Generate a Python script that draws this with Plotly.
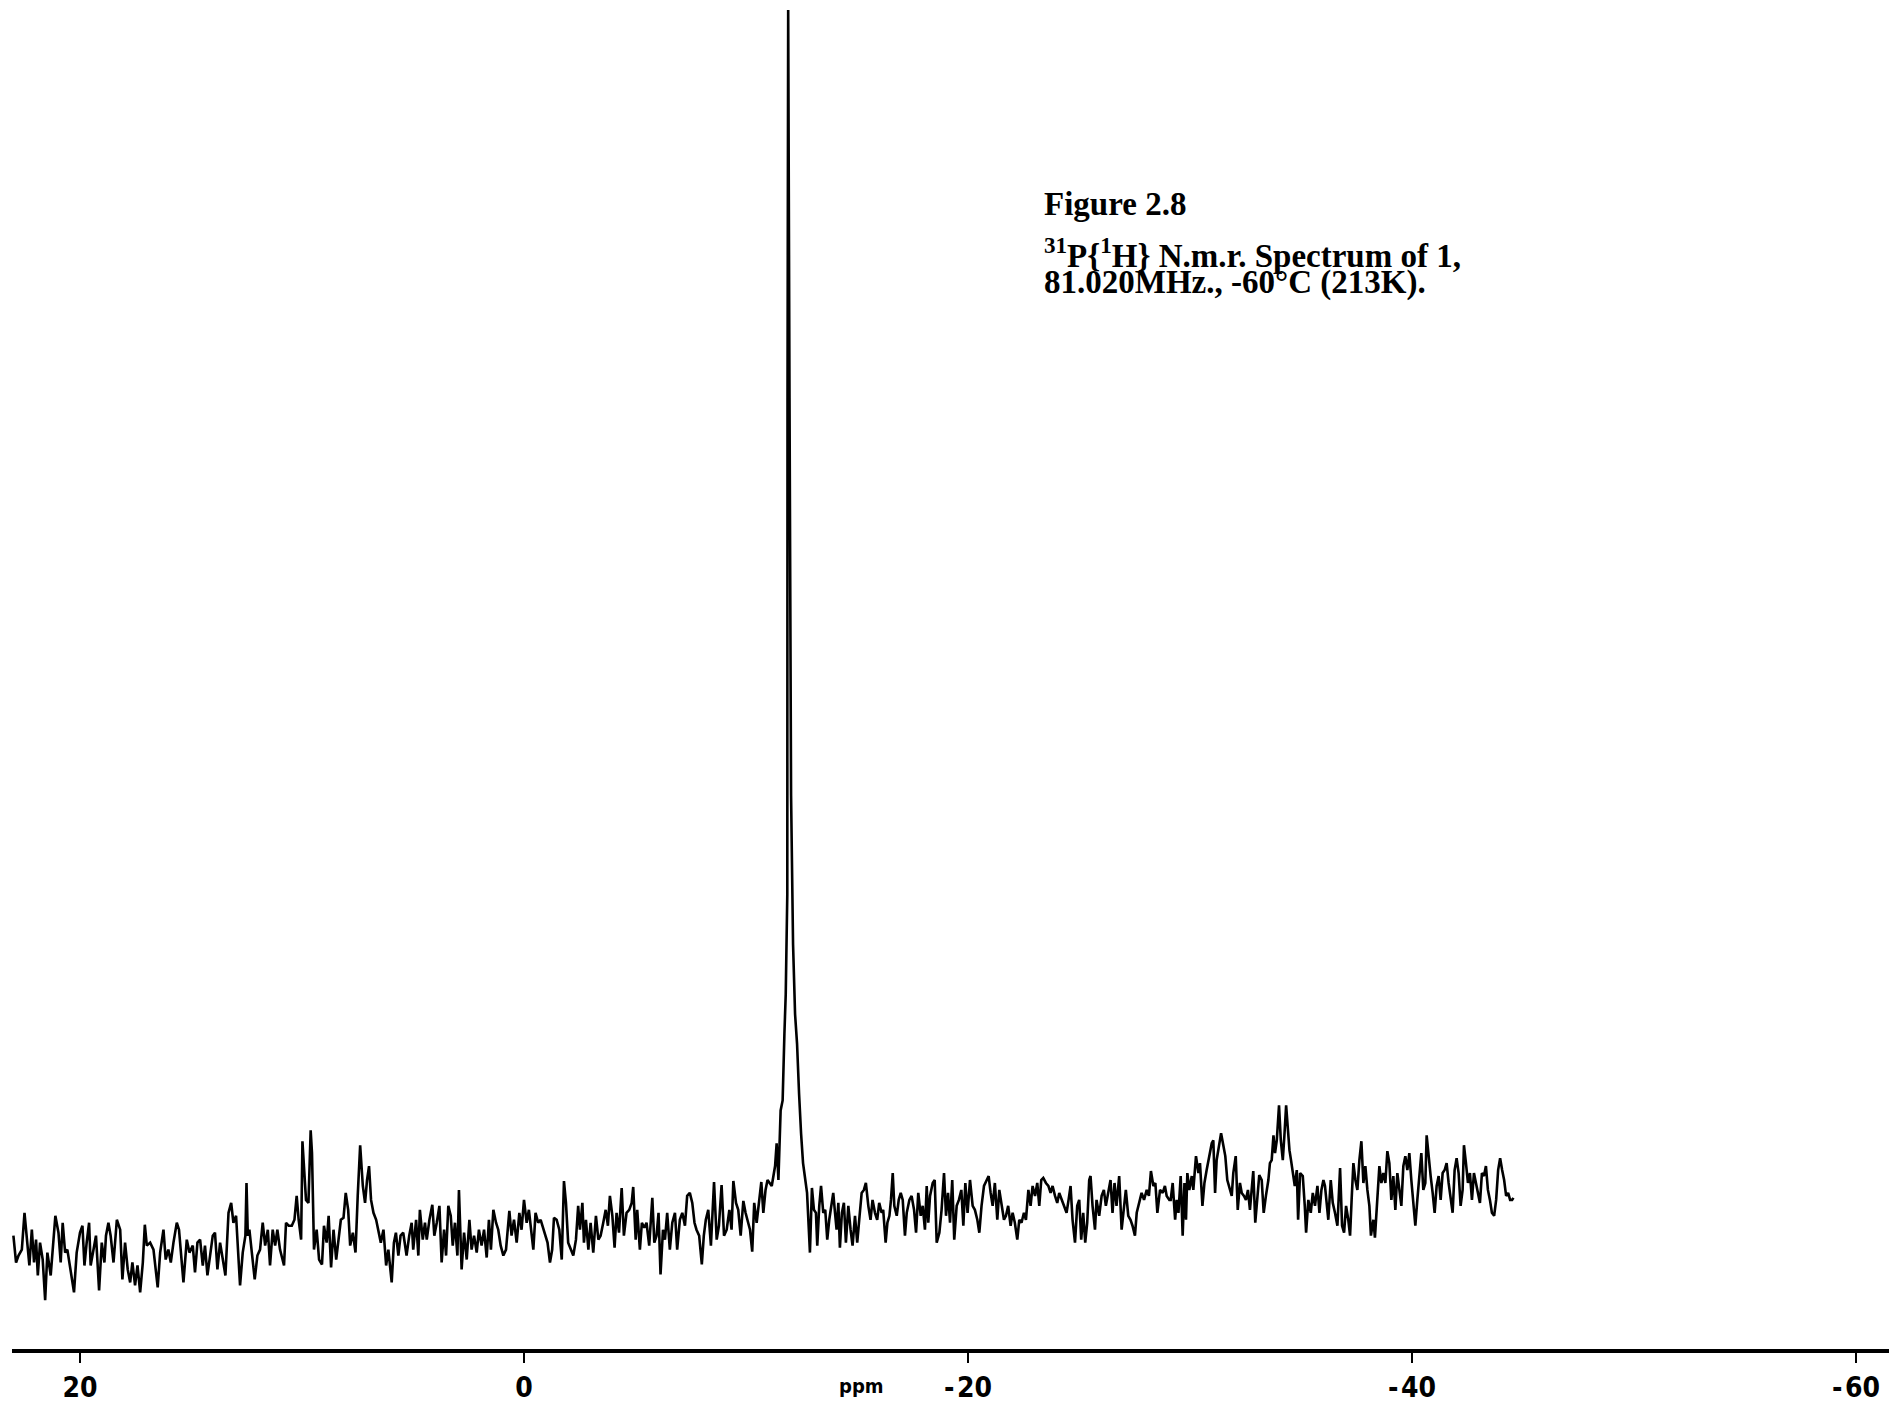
import plotly.graph_objects as go

# ---- Spectrum readings (chemical shift in ppm, intensity in arbitrary units) ----
# Segment A: +23 .. +6 ppm
ppm_a = [23.00, 22.88, 22.77, 22.62, 22.50, 22.40, 22.28, 22.17, 22.07, 21.98,
         21.90, 21.80, 21.68, 21.57, 21.47, 21.32, 21.20, 21.11, 20.97, 20.87,
         20.78, 20.67, 20.57, 20.45, 20.27, 20.15, 20.00, 19.89, 19.80, 19.70,
         19.59, 19.52, 19.40, 19.28, 19.14, 19.02, 18.90, 18.83, 18.72, 18.62,
         18.49, 18.34, 18.19, 18.09, 17.97, 17.85, 17.74, 17.64, 17.52, 17.41,
         17.29, 17.17, 17.08, 16.99, 16.84, 16.69, 16.50, 16.39, 16.24, 16.14,
         16.02, 15.91, 15.79, 15.64, 15.54, 15.42, 15.34, 15.19, 15.07, 14.92,
         14.82, 14.71, 14.59, 14.47, 14.37, 14.26, 14.14, 14.02, 13.92, 13.81,
         13.69, 13.57, 13.45, 13.31, 13.19, 13.09, 12.97, 12.85, 12.79, 12.67,
         12.55, 12.50, 12.44, 12.37, 12.23, 12.13, 12.01, 11.89, 11.77, 11.66,
         11.54, 11.44, 11.32, 11.21, 11.11, 10.99, 10.81, 10.72, 10.60, 10.46,
         10.34, 10.24, 10.15, 10.04, 9.98, 9.89, 9.82, 9.71, 9.61, 9.55,
         9.46, 9.34, 9.23, 9.10, 9.01, 8.89, 8.80, 8.69, 8.58, 8.46,
         8.36, 8.25, 8.13, 8.03, 7.92, 7.83, 7.71, 7.59, 7.49, 7.38,
         7.26, 7.16, 7.07, 6.98, 6.89, 6.78, 6.66, 6.56, 6.45, 6.33,
         6.21, 6.11]
int_a = [107, 80, 87, 93, 130, 107, 77, 113, 80, 103,
         67, 100, 83, 42, 90, 67, 107, 127, 110, 80,
         120, 90, 93, 77, 50, 90, 110, 117, 77, 100,
         120, 77, 93, 107, 52, 100, 80, 107, 120, 107,
         80, 123, 113, 63, 100, 73, 60, 80, 57, 77,
         50, 80, 118, 97, 100, 93, 55, 90, 113, 83,
         93, 80, 100, 120, 113, 83, 60, 103, 90, 97,
         70, 100, 103, 77, 97, 67, 90, 107, 110, 73,
         100, 83, 67, 130, 140, 120, 127, 80, 57, 90,
         107, 160, 107, 113, 83, 63, 87, 93, 120, 97,
         113, 77, 113, 97, 113, 93, 77, 120, 117, 117,
         123, 147, 123, 103, 202, 170, 143, 140, 213, 190,
         93, 113, 83, 78, 117, 100, 127, 75, 113, 83,
         100, 123, 125, 150, 133, 97, 110, 90, 147, 198,
         157, 140, 163, 177, 143, 130, 123, 110, 100, 113,
         77, 93]

# Segment B: +6 .. -11 ppm
ppm_b = [5.96, 5.86, 5.77, 5.66, 5.56, 5.44, 5.29, 5.17, 5.06, 4.99,
         4.86, 4.76, 4.69, 4.56, 4.46, 4.38, 4.26, 4.13, 4.04, 3.93,
         3.81, 3.71, 3.60, 3.51, 3.41, 3.30, 3.21, 3.11, 3.00, 2.93,
         2.81, 2.70, 2.58, 2.46, 2.36, 2.25, 2.13, 2.03, 1.91, 1.80,
         1.68, 1.58, 1.49, 1.38, 1.26, 1.16, 1.05, 0.93, 0.81, 0.66,
         0.56, 0.45, 0.33, 0.21, 0.11, 0.00, -0.12, -0.22, -0.33, -0.42,
         -0.52, -0.64, -0.75, -0.87, -0.97, -1.06, -1.17, -1.27, -1.35, -1.47,
         -1.59, -1.70, -1.80, -1.89, -1.99, -2.10, -2.22, -2.34, -2.44, -2.52,
         -2.63, -2.70, -2.79, -2.90, -3.00, -3.12, -3.24, -3.35, -3.45, -3.57,
         -3.68, -3.78, -3.87, -3.98, -4.08, -4.17, -4.28, -4.40, -4.50, -4.62,
         -4.74, -4.85, -4.92, -5.03, -5.10, -5.22, -5.31, -5.42, -5.52, -5.64,
         -5.78, -5.87, -5.97, -6.06, -6.15, -6.26, -6.35, -6.45, -6.57, -6.68,
         -6.80, -6.90, -7.02, -7.13, -7.25, -7.35, -7.47, -7.58, -7.68, -7.77,
         -7.89, -8.01, -8.10, -8.19, -8.30, -8.42, -8.56, -8.68, -8.78, -8.90,
         -9.01, -9.13, -9.25, -9.35, -9.43, -9.55, -9.65, -9.76, -9.88, -9.98,
         -10.07, -10.18, -10.28, -10.37, -10.48, -10.58, -10.69, -10.78, -10.88, -10.97,
         -11.05]
int_b = [60, 100, 110, 87, 107, 110, 87, 107, 120, 93,
         123, 87, 133, 103, 120, 103, 123, 138, 107, 120,
         137, 80, 113, 87, 137, 127, 97, 120, 87, 153,
         73, 110, 83, 123, 93, 107, 90, 113, 97, 113,
         85, 123, 93, 133, 120, 113, 97, 87, 93, 132,
         107, 123, 100, 130, 113, 143, 120, 133, 113, 93,
         130, 120, 123, 113, 107, 100, 80, 93, 125, 123,
         113, 83, 162, 140, 100, 93, 87, 103, 137, 113,
         140, 100, 123, 93, 120, 90, 127, 103, 107, 120,
         133, 117, 147, 127, 95, 130, 110, 155, 107, 130,
         133, 140, 156, 103, 133, 93, 120, 115, 120, 97,
         145, 100, 107, 130, 68, 113, 103, 130, 93, 120,
         130, 93, 123, 130, 117, 147, 150, 140, 120, 113,
         107, 78, 107, 123, 133, 97, 161, 103, 117, 158,
         107, 113, 133, 113, 162, 140, 133, 107, 142, 130,
         123, 113, 91, 140, 120, 143, 161, 130, 153, 163,
         160]

# Segment C: main resonance near -11.9 ppm
ppm_c = [-11.16, -11.31, -11.38, -11.46, -11.50, -11.56, -11.65, -11.68, -11.73, -11.79,
         -11.83, -11.86, -11.87, -11.90, -11.96, -12.03, -12.12, -12.21, -12.30, -12.34,
         -12.39, -12.48, -12.57, -12.66, -12.75, -12.88, -12.97]
int_c = [157, 177, 200, 163, 203, 233, 243, 283, 310, 350,
         417, 450, 950, 1340, 950, 550, 400, 330, 300, 270,
         250, 210, 180, 165, 150, 90, 155]

# Segment D: -13 .. -29 ppm
ppm_d = [-13.06, -13.15, -13.21, -13.30, -13.38, -13.48, -13.57, -13.66, -13.75, -13.86,
         -13.93, -14.01, -14.08, -14.16, -14.23, -14.32, -14.41, -14.50, -14.61, -14.71,
         -14.80, -14.91, -15.01, -15.10, -15.21, -15.31, -15.40, -15.51, -15.61, -15.70,
         -15.81, -15.91, -16.00, -16.11, -16.18, -16.29, -16.37, -16.46, -16.53, -16.61,
         -16.68, -16.79, -16.88, -16.97, -17.06, -17.16, -17.24, -17.36, -17.46, -17.57,
         -17.66, -17.76, -17.87, -17.96, -18.06, -18.14, -18.21, -18.29, -18.41, -18.50,
         -18.59, -18.71, -18.81, -18.92, -19.01, -19.10, -19.19, -19.29, -19.38, -19.49,
         -19.59, -19.70, -19.79, -19.88, -19.98, -20.09, -20.21, -20.31, -20.42, -20.51,
         -20.61, -20.72, -20.84, -20.93, -21.02, -21.11, -21.21, -21.32, -21.41, -21.51,
         -21.62, -21.71, -21.81, -21.92, -22.01, -22.11, -22.22, -22.31, -22.41, -22.52,
         -22.61, -22.72, -22.82, -22.91, -23.02, -23.12, -23.21, -23.30, -23.39, -23.51,
         -23.62, -23.72, -23.81, -23.92, -24.02, -24.11, -24.22, -24.32, -24.44, -24.53,
         -24.62, -24.71, -24.82, -24.92, -25.01, -25.10, -25.19, -25.28, -25.37, -25.46,
         -25.52, -25.61, -25.72, -25.79, -25.91, -26.02, -26.12, -26.21, -26.32, -26.42,
         -26.51, -26.60, -26.69, -26.81, -26.92, -27.02, -27.11, -27.22, -27.32, -27.41,
         -27.52, -27.60, -27.72, -27.82, -27.93, -28.05, -28.15, -28.24, -28.35, -28.44,
         -28.53, -28.65, -28.77, -28.87, -28.95, -29.07]
int_d = [133, 130, 97, 137, 157, 130, 133, 103, 123, 143,
         150, 130, 113, 140, 95, 130, 140, 100, 137, 113,
         97, 127, 100, 123, 150, 153, 160, 137, 123, 143,
         130, 123, 140, 130, 133, 100, 120, 127, 143, 170,
         137, 127, 143, 150, 143, 107, 130, 143, 147, 133,
         110, 150, 127, 137, 113, 157, 120, 147, 160, 163,
         100, 110, 133, 170, 127, 150, 120, 163, 103, 137,
         143, 153, 117, 160, 130, 163, 137, 133, 123, 110,
         137, 157, 163, 167, 150, 137, 160, 123, 153, 137,
         123, 127, 137, 117, 130, 120, 103, 123, 120, 130,
         123, 153, 137, 157, 147, 160, 137, 163, 165, 160,
         157, 150, 157, 147, 140, 150, 143, 137, 130, 143,
         157, 123, 100, 137, 143, 103, 130, 100, 120, 163,
         167, 137, 113, 143, 127, 147, 153, 137, 153, 163,
         130, 160, 137, 167, 113, 133, 153, 127, 123, 117,
         107, 130, 140, 150, 143, 153, 147, 172, 157, 160,
         130, 153, 150, 157, 147, 143]

# Segment E: -29 .. -44.6 ppm
ppm_e = [-29.13, -29.22, -29.33, -29.40, -29.48, -29.58, -29.67, -29.75, -29.82, -29.88,
         -29.97, -30.08, -30.15, -30.27, -30.38, -30.45, -30.56, -30.65, -30.75, -30.87,
         -30.98, -31.05, -31.13, -31.20, -31.31, -31.40, -31.50, -31.59, -31.68, -31.77,
         -31.88, -31.95, -32.06, -32.15, -32.25, -32.33, -32.43, -32.52, -32.61, -32.70,
         -32.79, -32.85, -32.94, -33.03, -33.12, -33.23, -33.32, -33.42, -33.53, -33.60,
         -33.68, -33.76, -33.83, -33.91, -34.01, -34.09, -34.18, -34.25, -34.33, -34.40,
         -34.48, -34.55, -34.63, -34.72, -34.81, -34.87, -34.96, -35.08, -35.17, -35.23,
         -35.33, -35.44, -35.53, -35.63, -35.74, -35.83, -35.92, -36.01, -36.08, -36.16,
         -36.23, -36.34, -36.43, -36.53, -36.64, -36.76, -36.85, -36.94, -37.03, -37.13,
         -37.21, -37.28, -37.36, -37.45, -37.54, -37.63, -37.72, -37.81, -37.90, -37.99,
         -38.08, -38.15, -38.26, -38.33, -38.44, -38.53, -38.62, -38.71, -38.80, -38.89,
         -38.98, -39.07, -39.16, -39.25, -39.34, -39.43, -39.52, -39.61, -39.70, -39.79,
         -39.88, -39.97, -40.06, -40.15, -40.24, -40.33, -40.42, -40.51, -40.60, -40.66,
         -40.75, -40.84, -40.93, -41.02, -41.11, -41.20, -41.29, -41.38, -41.47, -41.56,
         -41.65, -41.74, -41.83, -41.92, -42.01, -42.10, -42.19, -42.28, -42.34, -42.43,
         -42.52, -42.61, -42.70, -42.79, -42.88, -42.97, -43.06, -43.15, -43.24, -43.33,
         -43.42, -43.51, -43.60, -43.70, -43.79, -43.88, -43.97, -44.06, -44.15, -44.24,
         -44.33, -44.42, -44.51, -44.57]
int_e = [143, 160, 123, 143, 130, 167, 107, 160, 123, 170,
         153, 167, 153, 187, 170, 180, 137, 160, 173, 187,
         200, 203, 150, 183, 198, 210, 198, 187, 163, 155,
         147, 170, 187, 133, 160, 150, 147, 143, 153, 133,
         160, 172, 120, 143, 168, 163, 130, 147, 163, 180,
         183, 208, 190, 203, 238, 203, 183, 207, 238, 217,
         193, 183, 170, 157, 173, 123, 170, 167, 137, 110,
         143, 130, 150, 137, 157, 130, 153, 163, 157, 137,
         123, 163, 140, 130, 117, 175, 117, 110, 137, 123,
         107, 143, 180, 163, 153, 183, 202, 160, 177, 153,
         137, 107, 123, 105, 143, 177, 160, 170, 160, 192,
         180, 143, 167, 133, 170, 153, 137, 177, 187, 173,
         190, 163, 140, 117, 143, 163, 190, 153, 160, 208,
         183, 167, 150, 130, 157, 167, 143, 170, 173, 180,
         160, 143, 130, 173, 185, 170, 137, 153, 198, 180,
         160, 170, 143, 170, 160, 153, 140, 170, 167, 177,
         153, 143, 130, 127, 143, 173, 185, 173, 163, 147,
         150, 143, 143, 145]

# Axis ticks and texts
tick_vals = [20, 0, -20, -40, -60]
tick_text = ["20", "0", "-\u200a20", "-\u200a40", "-\u200a60"]
axis_unit = "ppm"
title_line1 = "Figure 2.8"
title_line2 = "<sup>31</sup>P{<sup>1</sup>H} N.m.r. Spectrum of 1,"
title_line3 = "81.020MHz., -60\u00b0C (213K)."

segments = [(ppm_a, int_a), (ppm_b, int_b), (ppm_c, int_c), (ppm_d, int_d), (ppm_e, int_e)]
ppm = []
inten = []
for px, iy in segments:
    n = min(len(px), len(iy))
    ppm.extend(px[:n])
    inten.extend(iy[:n])

fig = go.Figure()
fig.add_trace(go.Scatter(x=ppm, y=inten, mode="lines",
                         line=dict(color="black", width=2.6), hoverinfo="skip",
                         showlegend=False))

W, H = 1889, 1404
L, R, T, B = 12, 0, 0, 47
px_per_ppm = 22.2
zero_px = 524
x_left = (zero_px - L) / px_per_ppm
x_right = (zero_px - W) / px_per_ppm
plot_h = H - T - B

serif = "Liberation Serif, Times New Roman, serif"
narrow = "Liberation Sans Narrow, Arial Narrow, DejaVu Sans Condensed, sans-serif"

fig.update_layout(
    width=W, height=H,
    margin=dict(l=L, r=R, t=T, b=B, pad=0),
    paper_bgcolor="white", plot_bgcolor="white",
    xaxis=dict(range=[x_left, x_right], showgrid=False, zeroline=False,
               showline=True, linecolor="black", linewidth=4,
               ticks="outside", ticklen=10, tickwidth=2, tickcolor="black",
               tickvals=tick_vals, ticktext=tick_text,
               tickfont=dict(family=narrow, size=28, color="black", weight="bold")),
    yaxis=dict(range=[-7, 1350], visible=False, showgrid=False, zeroline=False),
    annotations=[
        dict(text=title_line1, xref="paper", yref="paper", x=0.5487, y=1 - 205 / plot_h,
             xanchor="left", yanchor="middle", showarrow=False,
             font=dict(family=serif, size=33, color="black", weight="bold")),
        dict(text=title_line2, xref="paper", yref="paper", x=0.5487, y=1 - 254 / plot_h,
             xanchor="left", yanchor="middle", showarrow=False,
             font=dict(family=serif, size=33, color="black", weight="bold")),
        dict(text=title_line3, xref="paper", yref="paper", x=0.5487, y=1 - 284 / plot_h,
             xanchor="left", yanchor="middle", showarrow=False,
             font=dict(family=serif, size=33, color="black", weight="bold")),
        dict(text=axis_unit, xref="x", yref="paper", x=-15.2, y=-(1394 - plot_h) / plot_h,
             xanchor="center", yanchor="middle", showarrow=False,
             font=dict(family=narrow, size=20, color="black", weight="bold")),
    ],
)

fig.write_html("out.html")
